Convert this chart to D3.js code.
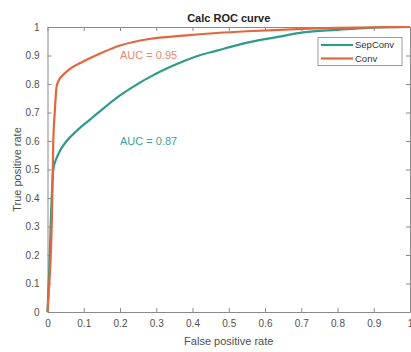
<!DOCTYPE html>
<html>
<head>
<meta charset="utf-8">
<script src="https://cdn.jsdelivr.net/npm/d3@7"></script>
<style>
  html, body { margin: 0; padding: 0; background: #fff; }
  svg { display: block; font-family: "Liberation Sans", Arial, sans-serif; }
</style>
</head>
<body>
<svg id="chart" width="411" height="352"></svg>
<script>
// ROC curves: false positive rate vs true positive rate
const convFpr = [0, 0.005, 0.012, 0.016, 0.02, 0.025, 0.03, 0.05, 0.1, 0.15, 0.2, 0.28, 0.375, 0.467, 0.55, 0.64, 0.72, 0.8, 0.9, 1];
const convTpr = [0, 0.1, 0.32, 0.6, 0.70, 0.79, 0.81, 0.84, 0.88, 0.91, 0.935, 0.958, 0.97, 0.979, 0.985, 0.99, 0.994, 0.997, 0.999, 1];

const sepFpr = [0, 0.005, 0.01, 0.016, 0.025, 0.034, 0.053, 0.08, 0.117, 0.15, 0.2, 0.255, 0.283, 0.33, 0.375, 0.42, 0.467, 0.51, 0.558, 0.64, 0.705, 0.8, 0.89, 1];
const sepTpr = [0, 0.15, 0.35, 0.50, 0.54, 0.565, 0.60, 0.635, 0.675, 0.71, 0.76, 0.805, 0.825, 0.855, 0.88, 0.901, 0.917, 0.932, 0.947, 0.966, 0.981, 0.99, 0.997, 1];

const seriesNames = ["SepConv", "Conv"];
const seriesColors = ["#2f9a8b", "#e2673f"];
const aucLabels = ["AUC = 0.87", "AUC = 0.95"];
const aucColors = ["#3aa595", "#e8896c"];
const aucPos = [[0.2, 0.6], [0.2, 0.9]];

const ticks = [0, 0.1, 0.2, 0.3, 0.4, 0.5, 0.6, 0.7, 0.8, 0.9, 1];

const svg = d3.select("#chart");
const margin = { left: 47.5, right: 1, top: 27, bottom: 40 };
const W = 411, H = 352;
const x = d3.scaleLinear().domain([0, 1]).range([margin.left, W - margin.right]);
const y = d3.scaleLinear().domain([0, 1]).range([H - margin.bottom, margin.top]);

const axisColor = "#8a8a8a";
const labelColor = "#505050";
const fmt = d => (d === 0 ? "0" : d === 1 ? "1" : d3.format(".1f")(d));

// Box axes with inward ticks on all four sides
function styleAxis(g, showText) {
  g.selectAll("path").attr("stroke", axisColor).attr("stroke-width", 1);
  g.selectAll("line").attr("stroke", axisColor);
  g.selectAll("text").attr("fill", labelColor).style("font-size", "10px");
  if (!showText) g.selectAll("text").remove();
}

svg.append("g")
  .attr("transform", `translate(0,${y(0)})`)
  .call(d3.axisBottom(x).tickValues(ticks).tickFormat(fmt).tickSizeInner(-4).tickSizeOuter(0).tickPadding(8))
  .call(g => styleAxis(g, true));
svg.append("g")
  .attr("transform", `translate(0,${y(1)})`)
  .call(d3.axisTop(x).tickValues(ticks).tickSizeInner(-4).tickSizeOuter(0))
  .call(g => styleAxis(g, false));
svg.append("g")
  .attr("transform", `translate(${x(0)},0)`)
  .call(d3.axisLeft(y).tickValues(ticks).tickFormat(fmt).tickSizeInner(-4).tickSizeOuter(0).tickPadding(8))
  .call(g => styleAxis(g, true));
svg.append("g")
  .attr("transform", `translate(${x(1)},0)`)
  .call(d3.axisRight(y).tickValues(ticks).tickSizeInner(-4).tickSizeOuter(0))
  .call(g => styleAxis(g, false));

// Curves
const line = d3.line()
  .x(d => x(d[0]))
  .y(d => y(d[1]))
  .curve(d3.curveMonotoneX);

const series = [
  d3.zip(sepFpr, sepTpr),
  d3.zip(convFpr, convTpr)
];

series.forEach((pts, i) => {
  svg.append("path")
    .datum(pts)
    .attr("fill", "none")
    .attr("stroke", seriesColors[i])
    .attr("stroke-width", 2.2)
    .attr("stroke-linejoin", "round")
    .attr("d", line);
});

// AUC annotations
aucLabels.forEach((t, i) => {
  svg.append("text")
    .attr("x", x(aucPos[i][0]))
    .attr("y", y(aucPos[i][1]))
    .attr("dy", "0.35em")
    .attr("fill", aucColors[i])
    .style("font-size", "11px")
    .text(t);
});

// Legend
const lg = svg.append("g");
lg.append("rect")
  .attr("x", 318).attr("y", 37.5).attr("width", 84).attr("height", 28)
  .attr("fill", "#fff").attr("stroke", "#9a9a9a").attr("stroke-width", 1);
seriesNames.forEach((name, i) => {
  const ly = 45 + i * 13.5;
  lg.append("line")
    .attr("x1", 321).attr("x2", 353).attr("y1", ly).attr("y2", ly)
    .attr("stroke", seriesColors[i]).attr("stroke-width", 2.2);
  lg.append("text")
    .attr("x", 355).attr("y", ly).attr("dy", "0.35em")
    .attr("fill", "#333").style("font-size", "9.5px")
    .text(name);
});

// Title and axis labels
svg.append("text")
  .attr("x", (x(0) + x(1)) / 2).attr("y", 18).attr("dy", "0.35em")
  .attr("text-anchor", "middle").attr("font-weight", "bold")
  .attr("fill", "#222").style("font-size", "11px")
  .text("Calc ROC curve");
svg.append("text")
  .attr("x", (x(0) + x(1)) / 2).attr("y", 341).attr("dy", "0.35em")
  .attr("text-anchor", "middle")
  .attr("fill", labelColor).style("font-size", "11px")
  .text("False positive rate");
svg.append("text")
  .attr("transform", `translate(17,${(y(0) + y(1)) / 2}) rotate(-90)`)
  .attr("dy", "0.35em")
  .attr("text-anchor", "middle")
  .attr("fill", labelColor).style("font-size", "11px")
  .text("True positive rate");
</script>
</body>
</html>
